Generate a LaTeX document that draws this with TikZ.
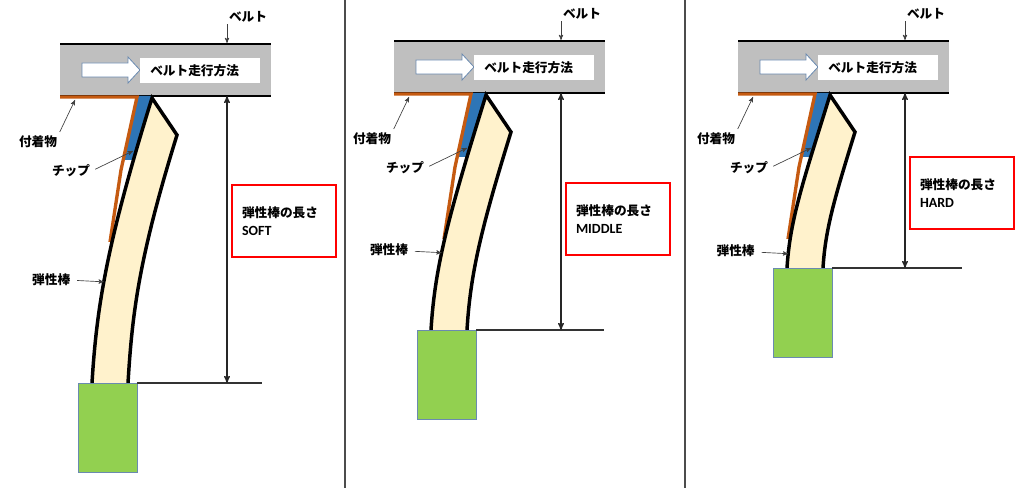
\documentclass[tikz,border=0pt]{standalone}
\usepackage{xcolor}
\usepackage{fontspec}
\newfontfamily\jpfont{Noto Sans CJK JP}
\newfontfamily\latfont{Carlito}
\usepackage{tikz}
\usetikzlibrary{arrows,positioning}

\definecolor{beltgray}{HTML}{BFBFBF}
\definecolor{adhorange}{HTML}{C55A11}
\definecolor{tipblue}{HTML}{2E75B6}
\definecolor{rodbeige}{HTML}{FFF2CC}
\definecolor{basegreen}{HTML}{92D050}
\definecolor{edgeblue}{HTML}{6A8AB0}
\definecolor{lenred}{HTML}{FF0000}

\tikzset{
 lbl/.style={font=\jpfont\bfseries\fontsize{9.5}{12}\selectfont, inner sep=1pt},
 ptr/.style={-stealth', draw=black!75, line width=0.5pt},
 dim/.style={stealth'-stealth', draw=black!85, line width=0.9pt},
 beltline/.style={draw=black, line width=1.2pt},
 dirarrow/.style={draw=edgeblue, fill=white, line width=0.6pt},
 dirbox/.style={lbl, fill=white, anchor=west, text width=75pt, inner xsep=7.5pt, minimum height=18.75pt, align=left},
 adh/.style={draw=adhorange, line width=2.5pt},
 rodline/.style={draw=black, line width=2.6pt},
 base/.style={draw=edgeblue, fill=basegreen, line width=0.6pt, minimum width=44pt, minimum height=66.75pt, inner sep=0pt, anchor=north west},
 refline/.style={draw=black!80, line width=0.9pt},
 lenbox/.style={draw=lenred, line width=1.9pt, minimum height=54pt, text width=63pt, inner xsep=7.5pt, align=left, font=\jpfont\bfseries\fontsize{9.5}{14}\selectfont},
 divider/.style={draw=black!70, line width=1.1pt}
}

\begin{document}
\begin{tikzpicture}[x=0.75pt, y=-0.75pt]
 \useasboundingbox (0,0) rectangle (1024,488);

 \draw[divider] (345,0) -- (345,488);
 \draw[divider] (685,0) -- (685,488);

 \foreach \dx/\dy/\yb/\xb/\hend/\pp/\by/\lvl in {0/0/383/92/262/0.57/221/SOFT, 334/-3/333/97/270/0.6/222/MIDDLE, 678/-3/271/109/284/0.9/196/HARD}{
 \begin{scope}[shift={(\dx,\dy)}]
  % belt
  \fill[beltgray] (60,44) rectangle (271,96);
  \draw[beltline] (60,44) -- (271,44);
  \draw[beltline] (60,96) -- (271,96);
  \draw[dirarrow] (82,63) -- (128,63) -- (128,57) -- (140,70) -- (128,83) -- (128,77) -- (82,77) -- cycle;
  \node[dirbox] (dir) at (140,70.5) {ベルト走行方法};

  % tip and deposit
  \fill[tipblue] (138,96) -- (153,96) -- (133,160) -- (124,160) -- cycle;
  \draw[adh] (60,97) -- (137,97) -- (121,170) -- (110,242);

  % rod
  \coordinate (tl) at (152,98);
  \coordinate (tr) at (177,135);
  \coordinate (bl) at (\xb,\yb);
  \coordinate (br) at ({\xb+36},\yb);
  \coordinate (c1) at ({152-0.155*(\yb-98)},{98+0.5*(\yb-98)});
  \coordinate (c2) at ({\xb+0.017*(\yb-98)},{\yb-0.28*(\yb-98)});
  \coordinate (d1) at ({177-0.155*(\yb-135)},{135+0.5*(\yb-135)});
  \coordinate (d2) at ({\xb+36+0.017*(\yb-135)},{\yb-0.28*(\yb-135)});
  \fill[rodbeige] (tl) -- (tr) .. controls (d1) and (d2) .. (br) -- (bl) .. controls (c2) and (c1) .. (tl) -- cycle;
  \draw[rodline] (bl) .. controls (c2) and (c1) .. (tl) -- (tr) .. controls (d1) and (d2) .. (br);
  \path (tl) .. controls (c1) and (c2) .. (bl) coordinate[pos=\pp] (rodpt);

  \node[base] (base) at ({\xb-14},\yb) {};

  % length
  \coordinate (lend) at (\hend,\yb);
  \draw[refline] (base.north east) -- (lend);
  \coordinate (dtop) at (227,96);
  \coordinate (dbot) at (227,\yb);
  \draw[dim] (dtop) -- (dbot);
  \node[lenbox] (len) at (284,\by) {弾性棒の長さ\\{\latfont\bfseries\fontsize{10.5}{14}\selectfont \lvl}};

  % labels
  \coordinate (beltpt) at (227,43);
  \node[lbl] (beltlbl) at (248,17) {ベルト};
  \draw[ptr] (beltlbl.south -| beltpt) -- (beltpt);
  \coordinate (adhpt) at (75,100);
  \node[lbl] (adhlbl) at (38,142) {付着物};
  \draw[ptr, shorten <=2pt] (adhlbl.north east) -- (adhpt);
  \coordinate (tippt) at (133,151);
  \node[lbl] (tiplbl) at (71,171) {チップ};
  \draw[ptr, shorten <=3pt] (tiplbl.east) -- (tippt);
  \node[lbl, left=24pt of rodpt, yshift=2pt] (rodlbl) {弾性棒};
  \draw[ptr, shorten <=4pt] (rodlbl) -- (rodpt);
 \end{scope}}
\end{tikzpicture}
\end{document}
